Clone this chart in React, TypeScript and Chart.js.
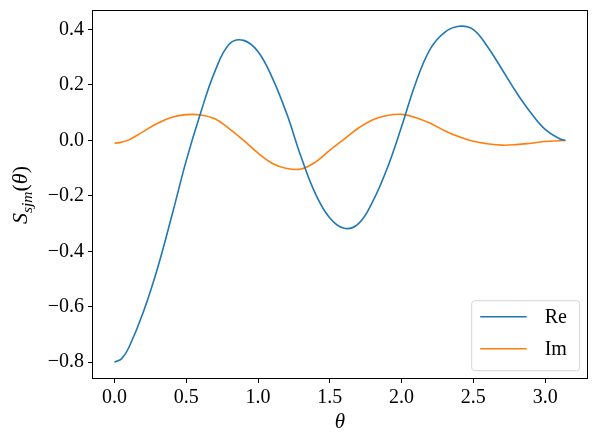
import React, { useEffect, useRef } from "react";
import { Chart, registerables } from "chart.js";

Chart.register(...registerables);

const theta = [0, 0.05, 0.1, 0.2, 0.3, 0.4, 0.5, 0.6, 0.7, 0.8, 0.9, 1.0, 1.1, 1.2, 1.3, 1.4, 1.5, 1.6, 1.7, 1.8, 1.9, 2.0, 2.1, 2.2, 2.3, 2.4, 2.5, 2.6, 2.7, 2.8, 2.9, 3.0, 3.1, 3.14159];
const reValues = [-0.8, -0.787, -0.747, -0.62, -0.46, -0.27, -0.072, 0.1, 0.25, 0.348, 0.361, 0.32, 0.225, 0.096, -0.06, -0.193, -0.28, -0.317, -0.3, -0.219, -0.1, 0.05, 0.21, 0.33, 0.39, 0.412, 0.4, 0.337, 0.256, 0.173, 0.1, 0.04, 0.006, 0];
const imValues = [-0.01, -0.006, 0.002, 0.032, 0.062, 0.084, 0.093, 0.092, 0.078, 0.042, 0.0, -0.046, -0.083, -0.101, -0.103, -0.078, -0.035, 0.005, 0.045, 0.075, 0.09, 0.094, 0.082, 0.062, 0.035, 0.013, -0.003, -0.012, -0.017, -0.015, -0.01, -0.004, -0.001, 0];
const xTickValues = [0, 0.5, 1.0, 1.5, 2.0, 2.5, 3.0];
const yTickValues = [-0.8, -0.6, -0.4, -0.2, 0.0, 0.2, 0.4];
const seriesLabels = ["Re", "Im"];
const seriesColors = ["#1f77b4", "#ff7f0e"];

const FONT = "'Liberation Serif', 'Times New Roman', serif";
const FS = 20;

const fmt = (v: number) => (v < -1e-9 ? "\u2212" : "") + Math.abs(v).toFixed(1);

const framePlugin = {
  id: "frame",
  afterDraw(chart: any) {
    const { ctx, chartArea } = chart;
    ctx.save();
    ctx.strokeStyle = "#000";
    ctx.lineWidth = 1;
    const l = Math.round(chartArea.left) + 0.5;
    const t = Math.round(chartArea.top) + 0.5;
    const r = Math.round(chartArea.right) - 0.5;
    const b = Math.round(chartArea.bottom) - 0.5;
    ctx.strokeRect(l, t, r - l, b - t);

    // y axis title with subscript
    ctx.translate(21, 195);
    ctx.rotate(-Math.PI / 2);
    ctx.fillStyle = "#000";
    ctx.textBaseline = "alphabetic";
    const parts = [
      { t: "S", f: `italic 22px ${FONT}`, dy: 0 },
      { t: "sjm", f: `italic 15.5px ${FONT}`, dy: 4.5 },
      { t: "(", f: `22px ${FONT}`, dy: 0 },
      { t: "\u03B8", f: `italic 22px ${FONT}`, dy: 0 },
      { t: ")", f: `22px ${FONT}`, dy: 0 },
    ];
    let total = 0;
    for (const p of parts) {
      ctx.font = p.f;
      total += ctx.measureText(p.t).width;
    }
    let x = -total / 2;
    for (const p of parts) {
      ctx.font = p.f;
      ctx.fillText(p.t, x, 6 + p.dy);
      x += ctx.measureText(p.t).width;
    }
    ctx.restore();

    // legend
    const boxR = chartArea.right - 8.3;
    const boxB = chartArea.bottom - 8.3;
    const boxW = 108;
    const boxH = 70;
    const boxL = boxR - boxW;
    const boxT = boxB - boxH;
    ctx.save();
    ctx.beginPath();
    const rad = 3;
    ctx.moveTo(boxL + rad, boxT);
    ctx.arcTo(boxR, boxT, boxR, boxB, rad);
    ctx.arcTo(boxR, boxB, boxL, boxB, rad);
    ctx.arcTo(boxL, boxB, boxL, boxT, rad);
    ctx.arcTo(boxL, boxT, boxR, boxT, rad);
    ctx.closePath();
    ctx.fillStyle = "rgba(255,255,255,0.8)";
    ctx.fill();
    ctx.strokeStyle = "#d6d6d6";
    ctx.lineWidth = 1;
    ctx.stroke();
    chart.data.datasets.forEach((ds: any, i: number) => {
      const cy = boxT + 16 + i * 32;
      ctx.strokeStyle = ds.borderColor;
      ctx.lineWidth = 1.6;
      ctx.beginPath();
      ctx.moveTo(boxL + 8.5, cy);
      ctx.lineTo(boxL + 55, cy);
      ctx.stroke();
      ctx.fillStyle = "#000";
      ctx.font = `${FS}px ${FONT}`;
      ctx.textBaseline = "middle";
      ctx.textAlign = "left";
      ctx.fillText(ds.label, boxL + 73, cy + 1);
    });
    ctx.restore();
  },
};

export default function App() {
  const canvasRef = useRef<HTMLCanvasElement | null>(null);

  useEffect(() => {
    if (!canvasRef.current) return;
    const series = [reValues, imValues];
    const chart = new Chart(canvasRef.current, {
      type: "line",
      data: {
        datasets: series.map((vals, i) => ({
          label: seriesLabels[i],
          data: theta.map((t, j) => ({ x: t, y: vals[j] })),
          borderColor: seriesColors[i],
          backgroundColor: seriesColors[i],
          borderWidth: 1.6,
          pointRadius: 0,
          tension: 0.4,
          fill: false,
        })),
      },
      options: {
        animation: false,
        responsive: false,
        maintainAspectRatio: false,
        devicePixelRatio: 1,
        layout: { padding: { top: 10, right: 11, left: 0, bottom: 0 } },
        plugins: {
          legend: { display: false },
          tooltip: { enabled: false },
        },
        scales: {
          x: {
            type: "linear",
            min: -0.15708,
            max: 3.29867,
            afterBuildTicks: (scale: any) => {
              scale.ticks = xTickValues.map((v) => ({ value: v }));
            },
            afterFit: (scale: any) => {
              scale.height = 65;
              scale.paddingLeft = 0;
              scale.paddingRight = 0;
            },
            ticks: {
              autoSkip: false,
              maxRotation: 0,
              color: "#000",
              padding: 3,
              font: { family: FONT, size: FS },
              callback: (v: any) => fmt(Number(v)),
            },
            grid: {
              display: true,
              drawOnChartArea: false,
              drawTicks: true,
              tickLength: 4,
              tickColor: "#000",
              tickWidth: 1,
            },
            border: { display: false },
            title: {
              display: true,
              text: "\u03B8",
              color: "#000",
              font: { family: FONT, size: FS + 1, style: "italic" },
              padding: { top: 0, bottom: 9 },
            },
          },
          y: {
            type: "linear",
            min: -0.8605,
            max: 0.4705,
            afterBuildTicks: (scale: any) => {
              scale.ticks = yTickValues.map((v) => ({ value: v }));
            },
            afterFit: (scale: any) => {
              scale.width = 92;
              scale.paddingTop = 0;
              scale.paddingBottom = 0;
            },
            ticks: {
              autoSkip: false,
              color: "#000",
              padding: 4,
              font: { family: FONT, size: FS },
              callback: (v: any) => fmt(Number(v)),
            },
            grid: {
              display: true,
              drawOnChartArea: false,
              drawTicks: true,
              tickLength: 4,
              tickColor: "#000",
              tickWidth: 1,
            },
            border: { display: false },
          },
        },
      },
      plugins: [framePlugin],
    });
    return () => chart.destroy();
  }, []);

  return (
    <div style={{ position: "absolute", left: 0, top: 0, width: 599, height: 444, background: "#fff" }}>
      <canvas ref={canvasRef} width={599} height={444} style={{ width: 599, height: 444 }} />
    </div>
  );
}
